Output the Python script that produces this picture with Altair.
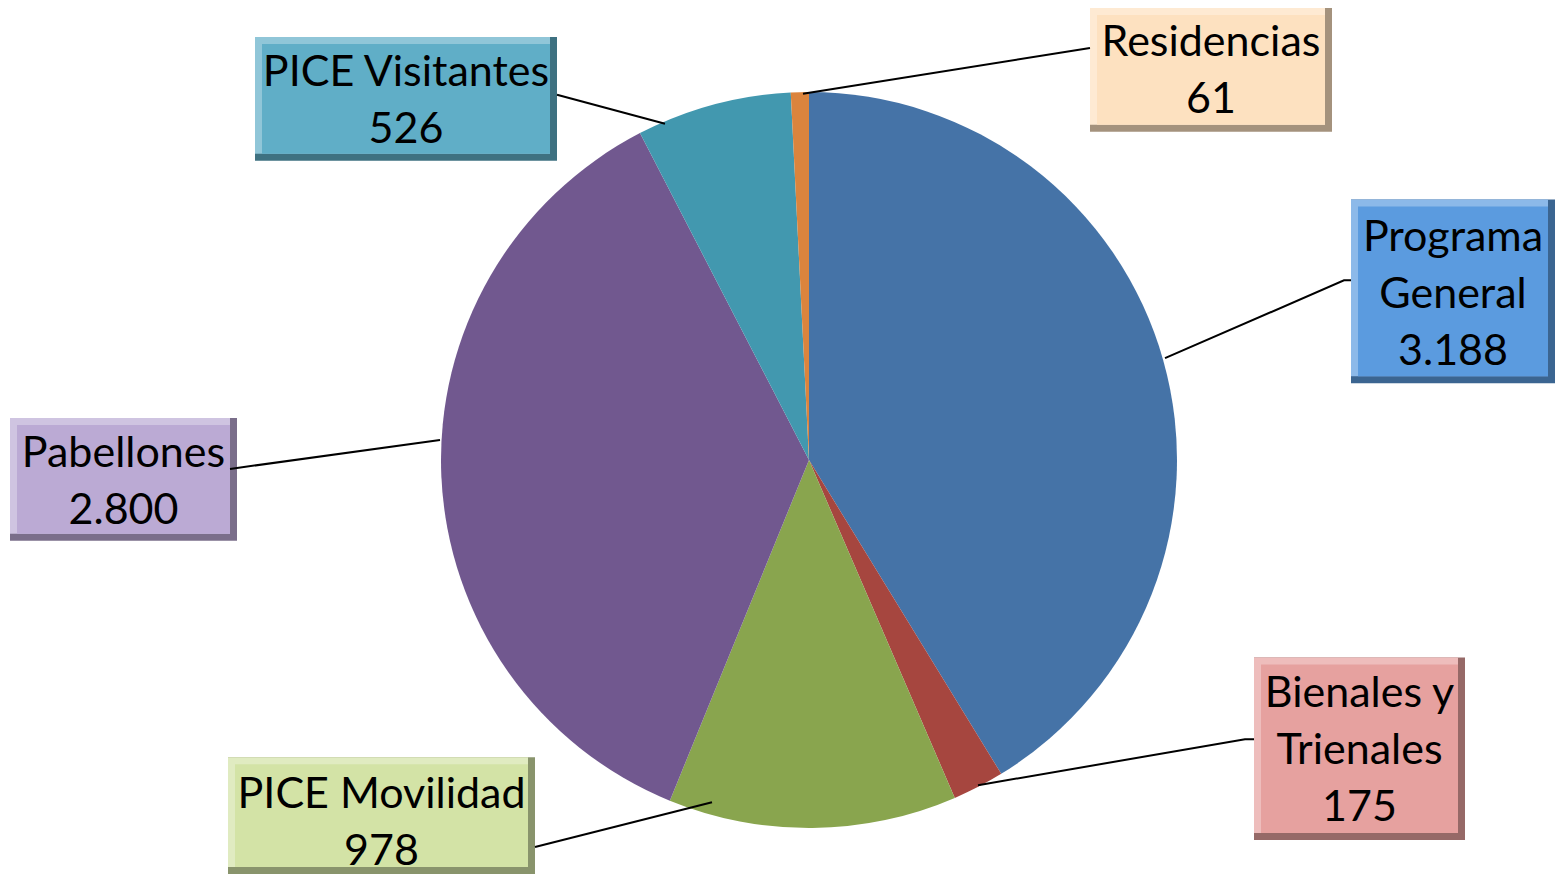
import altair as alt
import pandas as pd

# ---- data ----
categories = ["Programa General", "Bienales y Trienales", "PICE Movilidad",
              "Pabellones", "PICE Visitantes", "Residencias"]
values = [3188, 175, 978, 2800, 526, 61]
label_lines = [["Programa", "General"], ["Bienales y", "Trienales"], ["PICE Movilidad"],
               ["Pabellones"], ["PICE Visitantes"], ["Residencias"]]
slice_colors = ["#4573A7", "#A6463F", "#89A54E", "#71588F", "#4298AF", "#DB843D"]
box_colors = ["#5B9BDF", "#E6A19F", "#D3E3A6", "#BBAAD4", "#60AEC7", "#FDE1C0"]

# ---- layout (pixel positions of the label boxes, text and leader lines) ----
box_x1 = [1351, 1254, 228, 10, 255, 1090]
box_x2 = [1555, 1465, 535, 237, 557, 1332]
box_y1 = [198, 657, 757, 417, 35, 6]
box_y2 = [382, 840, 874, 540, 159, 130]
text_cy = [294, 751, 823, 482, 100, 70]
LINE_H = 57
leaders = [
    [(1165, 357), (1344, 279), (1351, 279)],
    [(978, 785), (1245, 739), (1254, 739)],
    [(712, 802), (535, 847)],
    [(440, 439), (230, 468)],
    [(665, 122), (557, 93)],
    [(803, 92), (1090, 46)],
]
CX, CY, R = 809, 458, 368
BEVEL = 7


def mix(hexc, other, t):
    a = [int(hexc[i:i + 2], 16) for i in (1, 3, 5)]
    b = [int(other[i:i + 2], 16) for i in (1, 3, 5)]
    return "#" + "".join(f"{round(x + (y - x) * t):02x}" for x, y in zip(a, b))


def fmt(v):
    return f"{v:,}".replace(",", ".")


pie_df = pd.DataFrame({"cat": categories, "value": values, "idx": range(len(values))})

box_df = pd.DataFrame({
    "cat": categories,
    "x1": box_x1, "x2": box_x2, "y1": box_y1, "y2": box_y2,
    "main": box_colors,
    "light": [mix(c, "#ffffff", 0.3) for c in box_colors],
    "dark": [mix(c, "#000000", 0.35) for c in box_colors],
})
box_df["ix1"] = box_df.x1 + BEVEL
box_df["ix2"] = box_df.x2 - BEVEL
box_df["iy1"] = box_df.y1 + BEVEL
box_df["iy2"] = box_df.y2 - BEVEL
box_df["text"] = [lines + [fmt(v)] for lines, v in zip(label_lines, values)]
box_df["tx"] = (box_df.x1 + box_df.x2) / 2
box_df["ty"] = [c - (len(t) - 1) * LINE_H / 2 for c, t in zip(text_cy, box_df["text"])]

line_rows = []
for cat, pts in zip(categories, leaders):
    for k, (px, py) in enumerate(pts):
        line_rows.append({"cat": cat, "k": k, "px": px, "py": py})
line_df = pd.DataFrame(line_rows)

xs = alt.Scale(domain=[8, 1556], nice=False, zero=False)
ys = alt.Scale(domain=[8, 874], reverse=True, nice=False, zero=False)
noax = None

pie = alt.Chart(pie_df).mark_arc(outerRadius=R).encode(
    theta=alt.Theta("value:Q", stack=True),
    order=alt.Order("idx:Q"),
    color=alt.Color("cat:N", scale=alt.Scale(domain=categories, range=slice_colors), legend=None),
    x=alt.value(CX - 8),
    y=alt.value(CY - 8),
)

base = alt.Chart(box_df)
outer = base.mark_rect().encode(
    x=alt.X("x1:Q", scale=xs, axis=noax), x2="x2:Q",
    y=alt.Y("y1:Q", scale=ys, axis=noax), y2="y2:Q",
    color=alt.Color("dark:N", scale=None),
)
light = base.mark_rect().encode(
    x=alt.X("x1:Q", scale=xs, axis=noax), x2="ix2:Q",
    y=alt.Y("y1:Q", scale=ys, axis=noax), y2="iy2:Q",
    color=alt.Color("light:N", scale=None),
)
inner = base.mark_rect().encode(
    x=alt.X("ix1:Q", scale=xs, axis=noax), x2="ix2:Q",
    y=alt.Y("iy1:Q", scale=ys, axis=noax), y2="iy2:Q",
    color=alt.Color("main:N", scale=None),
)
texts = base.mark_text(font="Lato", fontSize=43, lineHeight=LINE_H, color="black",
                       align="center", baseline="middle").encode(
    x=alt.X("tx:Q", scale=xs, axis=noax),
    y=alt.Y("ty:Q", scale=ys, axis=noax),
    text="text",
)
lines = alt.Chart(line_df).mark_line(color="black", strokeWidth=2).encode(
    x=alt.X("px:Q", scale=xs, axis=noax),
    y=alt.Y("py:Q", scale=ys, axis=noax),
    detail="cat:N",
    order="k:Q",
)

chart = alt.layer(pie, outer, light, inner, texts, lines).properties(
    width=1548, height=866,
    autosize=alt.AutoSizeParams(type="fit", contains="padding"),
    padding=0,
).configure_view(stroke=None)

chart.save("out.html", embed_options={"renderer": "svg", "actions": False})
